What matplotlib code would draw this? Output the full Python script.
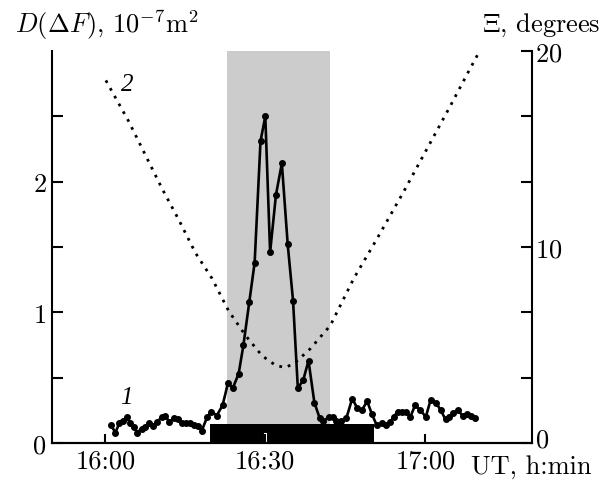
import numpy as np
import matplotlib
matplotlib.use('Agg')
import matplotlib.pyplot as plt
from matplotlib.ticker import FixedLocator
from matplotlib.transforms import ScaledTranslation

plt.rcParams['mathtext.fontset'] = 'cm'
plt.rcParams['font.family'] = 'cmr10'
plt.rcParams['axes.formatter.use_mathtext'] = True

# curve 1: D(dF), minutes after 16:00 UT
t1 = [1.0, 1.9, 2.6, 3.3, 4.0, 4.7, 5.4, 6.0, 6.8, 7.5, 8.2, 8.9, 9.7, 10.6,
      11.2, 12.0, 12.8, 13.6, 14.4, 15.1, 15.9, 16.6, 17.4, 18.1, 19.1, 19.9,
      20.9, 22.0, 23.0, 23.9, 25.0, 25.9, 27.0, 28.0, 29.1, 30.0, 30.9, 32.0,
      33.1, 34.2, 35.2, 36.1, 37.1, 38.1, 39.2, 40.2, 40.9, 41.9, 42.7, 43.3,
      44.2, 45.2, 46.3, 47.2, 48.1, 49.1, 50.0, 50.9, 51.9, 52.7, 53.4, 54.1,
      54.8, 55.6, 56.4, 57.2, 58.1, 59.1, 60.1, 61.0, 62.0, 62.9, 63.8, 64.4,
      65.2, 66.1, 67.0, 67.8, 68.6, 69.4]
d1 = [0.14, 0.08, 0.15, 0.17, 0.20, 0.15, 0.12, 0.08, 0.11, 0.12, 0.15, 0.13,
      0.16, 0.20, 0.21, 0.16, 0.19, 0.185, 0.15, 0.15, 0.15, 0.14, 0.13, 0.095,
      0.20, 0.24, 0.21, 0.29, 0.46, 0.42, 0.53, 0.75, 1.08, 1.38, 2.31, 2.50,
      1.46, 1.90, 2.14, 1.52, 1.09, 0.42, 0.48, 0.63, 0.31, 0.19, 0.165, 0.20,
      0.20, 0.17, 0.165, 0.19, 0.34, 0.27, 0.25, 0.32, 0.22, 0.135, 0.15,
      0.135, 0.16, 0.20, 0.24, 0.24, 0.24, 0.20, 0.29, 0.25, 0.20, 0.33, 0.31,
      0.25, 0.18, 0.20, 0.23, 0.25, 0.21, 0.22, 0.21, 0.19]

# curve 2: Xi, degrees
t2 = [0.1, 4.4, 7.5, 10.6, 13.75, 16.9, 20.0, 23.1, 26.25, 29.4, 32.0, 33.8,
      35.6, 38.4, 42.2, 46.6, 50.9, 55.9, 60.3, 64.7, 68.4, 70.0]
xi = [18.5, 16.4, 14.7, 13.0, 11.4, 9.7, 8.4, 6.75, 5.5, 4.45, 3.95, 3.85,
      4.1, 4.8, 6.0, 8.4, 10.4, 12.8, 15.0, 17.2, 19.1, 19.9]

gray_band = (22.8, 42.2)
black_bar = (19.7, 50.3, 0.145)

xticks = [0, 30, 60]
xlabels = ['16:00', '16:30', '17:00']

fs = 19
fig = plt.figure(figsize=(6.06, 4.81), dpi=100)
ax = fig.add_axes([0.0858, 0.0769, 0.792, 0.815])
ax2 = ax.twinx()

ax.axvspan(gray_band[0], gray_band[1], color='#cccccc', lw=0, zorder=0)
ax.fill_between([black_bar[0], black_bar[1]], 0, black_bar[2], color='black',
                lw=0, zorder=1)
ax.plot([30, 30], [0, 0.07], color='white', lw=2.2, zorder=1.5)
ax.plot(t1, d1, color='black', lw=1.9, marker='o', ms=4, zorder=3)

ax2.plot(t2, xi, color='black', lw=2.0, linestyle=(0, (1.0, 2.2)))

ax.set_xlim(-10, 80)
ax.set_ylim(0, 3)
ax2.set_ylim(0, 20)

ax.set_xticks(xticks)
ax.set_xticklabels(xlabels)
ax.set_yticks([0, 1, 2])
ax.yaxis.set_minor_locator(FixedLocator([0.5, 1.5, 2.5]))
ax2.set_yticks([0, 10, 20])
ax2.yaxis.set_minor_locator(FixedLocator(np.arange(0, 21, 10 / 3)))

for a in (ax, ax2):
    a.spines['top'].set_visible(False)
    for s in a.spines.values():
        s.set_linewidth(1.5)
    a.tick_params(which='both', direction='in', length=8, width=1.5,
                  labelsize=fs, pad=4)
ax2.spines['left'].set_visible(False)
ax.spines['right'].set_visible(False)
ax.tick_params(axis='x', length=6.5)
ax2.tick_params(axis='y', pad=2)

# lift the right-hand "0" a little, as in the original
lbl = ax2.get_yticklabels()[0]
lbl.set_transform(lbl.get_transform() +
                  ScaledTranslation(0, 4 / 72, fig.dpi_scale_trans))

ax.text(2.8, 0.31, '1', family='Liberation Serif', style='italic', fontsize=18)
ax2.text(3.0, 18.0, '2', family='Liberation Serif', style='italic', fontsize=18)

fig.text(0.025, 0.948, r'$D(\Delta F)$, $10^{-7}\mathrm{m}^2$', fontsize=fs,
         va='center')
fig.text(0.795, 0.948, r'$\Xi$, degrees', fontsize=fs, va='center')
fig.text(0.778, 0.03, 'UT, h:min', fontsize=fs, va='center')

fig.savefig('out.png', dpi=100)
